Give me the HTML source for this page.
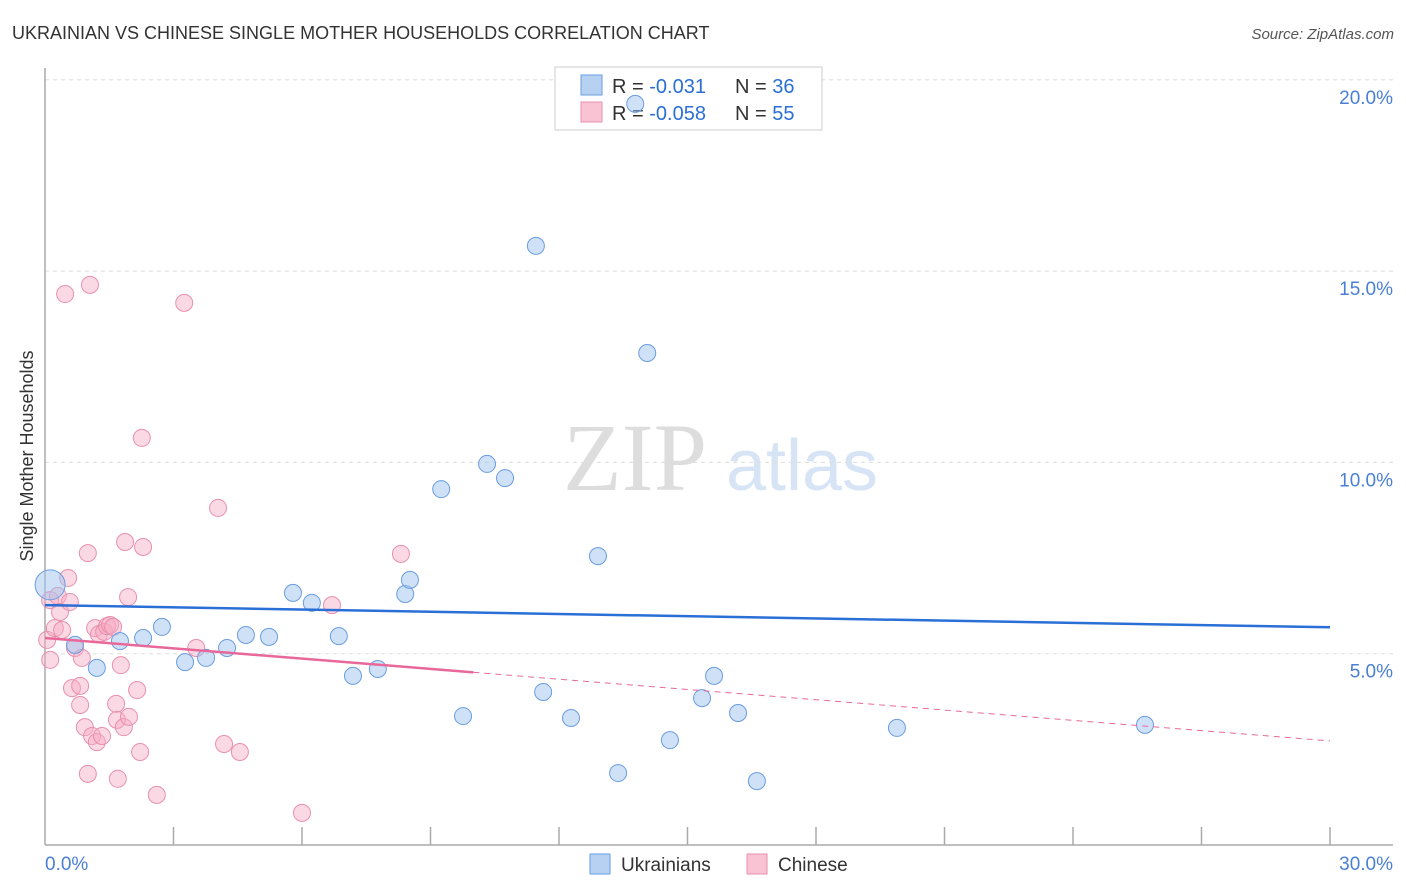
<!DOCTYPE html>
<html><head><meta charset="utf-8"><style>
body{margin:0;background:#fff;font-family:"Liberation Sans",sans-serif;}
#wrap{position:relative;width:1406px;height:892px;overflow:hidden;}
</style></head><body><div id="wrap">
<svg id="svg" width="1406" height="892" xmlns="http://www.w3.org/2000/svg">
<text x="12" y="39" font-size="18" fill="#333">UKRAINIAN VS CHINESE SINGLE MOTHER HOUSEHOLDS CORRELATION CHART</text>
<text x="1394" y="39" font-size="15" fill="#555" font-style="italic" text-anchor="end">Source: ZipAtlas.com</text>
<text x="33" y="456" font-size="18" fill="#333" text-anchor="middle" transform="rotate(-90 33 456)">Single Mother Households</text>
<text x="635" y="490" font-size="96" fill="#ddd" font-family="Liberation Serif" text-anchor="middle">ZIP</text>
<text x="802" y="490" font-size="72" fill="#d6e4f6" text-anchor="middle">atlas</text>
<g id="grid"></g><g id="axes"></g>
<g>
<rect x="555" y="67" width="267" height="63" fill="#fff" stroke="#ccc"/>
<rect x="581" y="75" width="21" height="20" fill="#b7d1f3" stroke="#6a9de0"/>
<rect x="581" y="102" width="21" height="20" fill="#f9c3d4" stroke="#e890ad"/>
<text x="612" y="93" font-size="20" fill="#333">R = <tspan fill="#2a6fd6">-0.031</tspan><tspan x="735">N = </tspan><tspan fill="#2a6fd6">36</tspan></text>
<text x="612" y="120" font-size="20" fill="#333">R = <tspan fill="#2a6fd6">-0.058</tspan><tspan x="735">N = </tspan><tspan fill="#2a6fd6">55</tspan></text>
</g>
<g id="pts"></g><g id="lines"></g>
<g>
<rect x="590" y="854" width="20" height="20" fill="#b7d1f3" stroke="#6a9de0"/>
<text x="621" y="871" font-size="19" fill="#333">Ukrainians</text>
<rect x="747" y="854" width="20" height="20" fill="#f9c3d4" stroke="#e890ad"/>
<text x="778" y="871" font-size="19" fill="#333">Chinese</text>
</g>
</svg></div>
<script>
const blueX=[0.12,0.7,1.21,1.75,2.29,2.73,3.27,3.76,4.25,4.69,5.23,5.79,6.23,6.86,7.19,7.77,8.41,8.52,9.25,9.76,10.32,10.74,11.46,11.63,12.28,12.91,13.38,13.78,14.06,14.59,15.34,15.62,16.18,16.62,19.89,25.68];
const blueY=[6.8,5.23,4.63,5.33,5.41,5.70,4.78,4.89,5.15,5.49,5.44,6.59,6.33,5.46,4.42,4.60,6.56,6.93,9.30,3.37,9.96,9.59,15.66,4.00,3.32,7.55,1.88,19.37,12.86,2.74,3.84,4.42,3.45,1.67,3.06,3.14];
const pinkX=[0.12,0.05,0.12,0.23,0.30,0.35,0.40,0.47,0.54,0.58,0.63,0.70,0.82,0.82,0.86,0.93,1.00,1.00,1.05,1.10,1.17,1.21,1.26,1.33,1.38,1.45,1.52,1.59,1.66,1.68,1.70,1.77,1.84,1.87,1.94,1.96,2.15,2.22,2.26,2.29,2.61,3.25,3.53,4.04,4.18,4.55,6.00,6.70,8.31];
const pinkY=[6.40,5.36,4.84,5.67,6.51,6.09,5.62,14.40,6.98,6.35,4.10,5.15,3.66,4.16,4.89,3.08,1.86,7.63,14.64,2.85,5.67,2.69,5.51,2.85,5.57,5.72,5.75,5.70,3.69,3.27,1.73,4.70,3.08,7.92,6.48,3.35,4.05,2.43,10.64,7.79,1.31,14.17,5.15,8.81,2.64,2.43,0.84,6.27,7.61];
const blueTrend=[6.27,5.69];
const pinkTrend=[5.41,2.72];
const pinkSolidEnd=10;
const yTicks=[5,10,15,20];
const yTickLabels=["5.0%","10.0%","15.0%","20.0%"];
const xTickCount=10;
const NS="http://www.w3.org/2000/svg";
const X=v=>45+v*(1285/30);
const Y=v=>845-v*38.26;
function mk(tag,attrs,parent){const e=document.createElementNS(NS,tag);for(const k in attrs)e.setAttribute(k,attrs[k]);document.getElementById(parent).appendChild(e);return e;}
yTicks.forEach((t,i)=>{
 const g=mk('line',{x1:45,x2:1393,y1:Y(t),y2:Y(t),stroke:'#ddd','stroke-dasharray':'4,4'},'grid');
 
 
 const tx=mk('text',{x:1393,y:Y(t)+24,'font-size':19,fill:'#4a7fd4','text-anchor':'end'},'axes');
 tx.textContent=yTickLabels[i];
 
 
});
const ax=mk('line',{x1:45,x2:1393,y1:845,y2:845,stroke:'#aaa','stroke-width':1.5},'axes');


const ay=mk('line',{x1:45,x2:45,y1:68,y2:845,stroke:'#aaa','stroke-width':1.5},'axes');


for(let i=1;i<=xTickCount;i++){
 const t=mk('line',{x1:X(i*3),x2:X(i*3),y1:827,y2:845,stroke:'#aaa','stroke-width':1.5},'axes');
 
 
}
const l0=mk('text',{x:45,y:870,'font-size':19,fill:'#4a7fd4'},'axes');l0.textContent='0.0%';


const l1=mk('text',{x:1393,y:870,'font-size':19,fill:'#4a7fd4','text-anchor':'end'},'axes');l1.textContent='30.0%';


pinkX.forEach((x,i)=>{
 const c=mk('circle',{cx:X(x),cy:Y(pinkY[i]),r:8.5,fill:'rgba(247,170,196,0.45)',stroke:'#e890ad','stroke-width':1},'pts');
 
 
});
blueX.forEach((x,i)=>{
 const c=mk('circle',{cx:X(x),cy:Y(blueY[i]),r:i===0?15:8.5,fill:'rgba(160,196,240,0.5)',stroke:'#6a9de0','stroke-width':1},'pts');
 
 
});
const bl=mk('line',{x1:X(0),y1:Y(blueTrend[0]),x2:X(30),y2:Y(blueTrend[1]),stroke:'#2a6fd6','stroke-width':2.5},'lines');


const pm=pinkTrend[0]+(pinkTrend[1]-pinkTrend[0])*pinkSolidEnd/30;
const pl=mk('line',{x1:X(0),y1:Y(pinkTrend[0]),x2:X(pinkSolidEnd),y2:Y(pm),stroke:'#e8689a','stroke-width':2.5},'lines');


const pd=mk('line',{x1:X(pinkSolidEnd),y1:Y(pm),x2:X(30),y2:Y(pinkTrend[1]),stroke:'#e8689a','stroke-width':1,'stroke-dasharray':'6,5'},'lines');


</script></body></html>
